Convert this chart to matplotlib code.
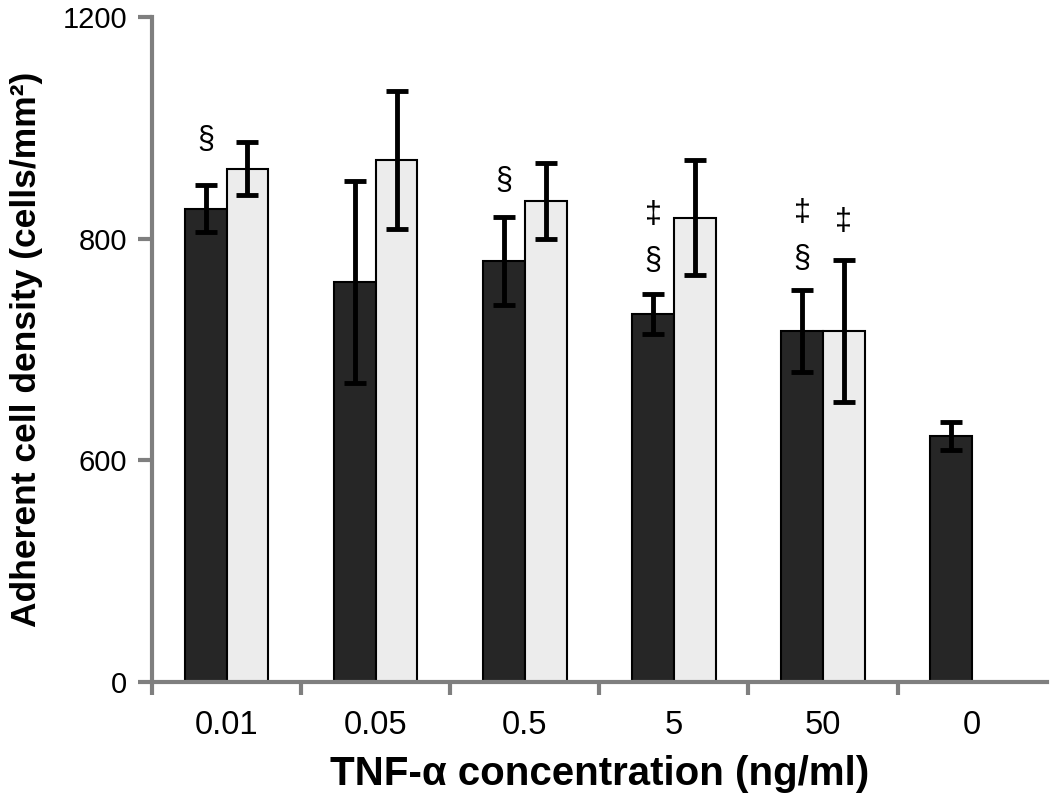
import matplotlib
matplotlib.use("Agg")
import matplotlib.pyplot as plt
import numpy as np

plt.rcParams['font.family'] = ['Liberation Sans', 'DejaVu Sans']

categories = ['0.01', '0.05', '0.5', '5', '50', '0']
dark_vals = [827, 761, 780, 732, 717, 622]
dark_err = [21, 91, 40, 18, 37, 13]
light_vals = [863, 871, 834, 819, 717, None]
light_err = [24, 62, 34, 52, 64, None]
ytick_vals = [400, 600, 800, 1000]
ytick_labels = ['0', '600', '800', '1200']
# annotations: (category index, series, y value, symbol)
annotations = [
    (0, 'dark', 889, '§'),
    (2, 'dark', 852, '§'),
    (3, 'dark', 821, '‡'),
    (3, 'dark', 780, '§'),
    (4, 'dark', 823, '‡'),
    (4, 'dark', 782, '§'),
    (4, 'light', 815, '‡'),
]

fig = plt.figure(figsize=(10.5, 7.99), dpi=100)
ax = fig.add_axes([0.1448, 0.1464, 0.852, 0.8323])

x = np.arange(len(categories))
w = 0.28
off = 0.14
grey = '#7f7f7f'

ax.bar(x - off, dark_vals, width=w, color='#262626', edgecolor='black',
       linewidth=1.5, zorder=2)
ax.errorbar(x - off, dark_vals, yerr=dark_err, fmt='none', ecolor='black',
            elinewidth=3.5, capsize=8, capthick=3.5, zorder=3)
lx = [i + off for i, v in enumerate(light_vals) if v is not None]
lv = [v for v in light_vals if v is not None]
le = [e for e in light_err if e is not None]
ax.bar(lx, lv, width=w, color='#ececec', edgecolor='black', linewidth=1.5, zorder=2)
ax.errorbar(lx, lv, yerr=le, fmt='none', ecolor='black',
            elinewidth=3.5, capsize=8, capthick=3.5, zorder=3)

for ci, s, yv, sym in annotations:
    xp = ci - off if s == 'dark' else ci + off
    ax.text(xp, yv, sym, ha='center', va='center', fontsize=22, color='black')

ax.set_xlim(-0.5, 5.5)
ax.set_ylim(400, 1000)
ax.set_yticks(ytick_vals)
ax.set_yticklabels(ytick_labels)
ax.set_xticks(x)
ax.set_xticklabels(categories)
ax.set_xticks(np.arange(-0.5, 5.0, 1.0), minor=True)
ax.tick_params(axis='x', which='major', length=0, labelsize=23.5, pad=20)
ax.tick_params(axis='x', which='minor', length=9, width=3, color=grey, direction='out')
ax.tick_params(axis='y', which='major', length=10, width=3, color=grey, labelsize=21, pad=8)

for sp in ['top', 'right']:
    ax.spines[sp].set_visible(False)
for sp in ['left', 'bottom']:
    ax.spines[sp].set_color(grey)
    ax.spines[sp].set_linewidth(3)

ax.set_xlabel('TNF-α concentration (ng/ml)', fontsize=29, fontweight='bold', labelpad=10)
ax.set_ylabel('Adherent cell density (cells/mm²)', fontsize=25.5, fontweight='bold', labelpad=14)

fig.savefig('out.png', dpi=100)
